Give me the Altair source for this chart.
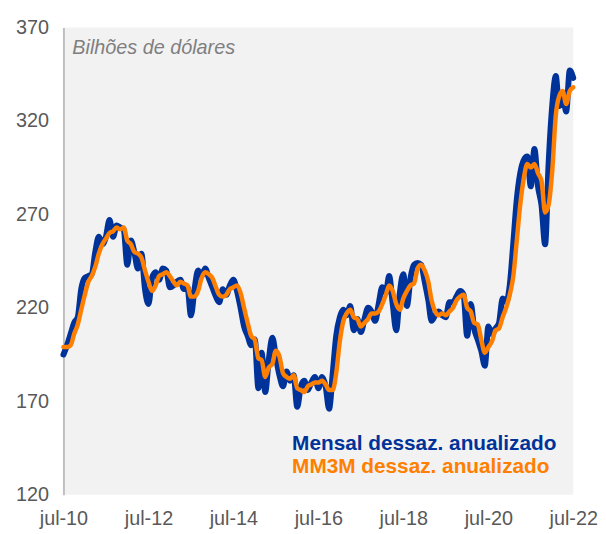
import altair as alt
import pandas as pd

# Mensal dessaz. anualizado (US$ bi), jul-10 .. jul-22
mensal = [
    195, 200, 206, 212, 215, 230, 236, 237, 238, 250, 258, 254,
    258, 267, 258, 264, 263, 262, 243, 256, 250, 241, 249, 230,
    222, 236, 239, 235, 241, 240, 231, 232, 234, 235, 230, 231,
    216, 230, 240, 237, 241, 236, 231, 226, 223, 230, 227, 232,
    235, 229, 220, 210, 205, 200, 203, 177, 196, 175, 192, 204,
    194, 184, 178, 186, 181, 184, 167, 178, 181, 176, 180, 183,
    177, 183, 178, 166, 185, 205, 215, 219, 216, 221, 208, 214,
    207, 214, 220, 218, 213, 222, 231, 228, 237, 222, 208, 228,
    238, 221, 236, 243, 244, 243, 234, 224, 213, 216, 218, 216,
    215, 223, 223, 226, 229, 227, 205, 222, 209, 203, 197, 189,
    210, 206, 209, 212, 225, 223, 232, 255, 277, 292, 299, 301,
    285, 305, 285, 275, 254, 297, 328, 344, 328, 335, 325, 347,
    343,
]

# MM3M dessaz. anualizado (US$ bi), jul-10 .. jul-22
mm3m = [
    199, 199, 200, 206, 211, 219, 227, 234, 237, 242, 249, 254,
    257, 260, 261, 263, 262, 263, 256, 254, 250, 249, 247, 240,
    234, 229, 232, 237, 238, 239, 237, 234, 232, 234, 233, 232,
    226, 226, 229, 236, 239, 238, 236, 231, 227, 226, 227, 230,
    231, 232, 228, 220, 212, 205, 203, 193, 192, 183, 188, 190,
    197, 194, 185, 183, 182, 184, 177, 176, 175, 178, 179, 180,
    180, 181, 179, 176, 176, 185, 202, 213, 217, 219, 215, 214,
    210, 212, 214, 217, 217, 218, 222, 227, 232, 229, 222, 219,
    225, 229, 232, 233, 241, 243, 240, 234, 224, 218, 216, 217,
    216, 218, 220, 224, 226, 227, 220, 218, 212, 211, 203, 196,
    199, 202, 208, 209, 215, 220, 227, 237, 255, 275, 289, 297,
    295, 297, 292, 288, 271, 275, 293, 323, 333, 336, 329, 336,
    338,
]

serie_nomes = ["Mensal dessaz. anualizado", "MM3M dessaz. anualizado"]
cores = ["#003399", "#FF7F00"]
y_ticks = [120, 170, 220, 270, 320, 370]
x_tick_anos = [2010, 2012, 2014, 2016, 2018, 2020, 2022]
titulo = "Bilhões de dólares"

FONT = "Liberation Sans, Arial, sans-serif"

datas = list(pd.date_range("2010-07-01", periods=len(mensal), freq="MS").strftime("%Y-%m-%dT00:00:00"))
df_mensal = pd.DataFrame({"data": datas, "valor": mensal, "serie": serie_nomes[0]})
df_mm3m = pd.DataFrame({"data": datas, "valor": mm3m, "serie": serie_nomes[1]})

color_scale = alt.Scale(domain=serie_nomes, range=cores)

x_enc = alt.X(
    "data:T",
    scale=alt.Scale(domain=[alt.DateTime(year=2010, month=7, date=1),
                            alt.DateTime(year=2022, month=7, date=1)]),
    axis=alt.Axis(
        values=[alt.DateTime(year=a, month=7, date=1) for a in x_tick_anos],
        labelExpr="'jul-' + timeFormat(datum.value, '%y')",
        domain=False, ticks=False, grid=False, labelFlush=False, labelOverlap=False,
        labelPadding=14, labelFontSize=20, labelColor="#595959", labelFont=FONT,
        title=None,
    ),
)
y_enc = alt.Y(
    "valor:Q",
    scale=alt.Scale(domain=[120, 370], nice=False, zero=False),
    axis=alt.Axis(
        values=y_ticks, grid=False, ticks=False, tickSize=0,
        labelPadding=15, labelFontSize=20, labelColor="#595959", labelFont=FONT,
        domainColor="#BFBFBF", domainWidth=2, title=None,
    ),
)

def linha(df, largura):
    return alt.Chart(df).mark_line(
        strokeWidth=largura, interpolate="monotone", strokeCap="round", strokeJoin="round"
    ).encode(
        x=x_enc, y=y_enc,
        color=alt.Color("serie:N", scale=color_scale, legend=None),
    )

l_mensal = linha(df_mensal, 6)
l_mm3m = linha(df_mm3m, 4.5)

t_titulo = alt.Chart(pd.DataFrame({"t": [titulo]})).mark_text(
    font=FONT, fontSize=20, fontStyle="italic", color="#7F7F7F",
    align="left", baseline="alphabetic",
).encode(x=alt.value(9), y=alt.value(27), text="t:N")

def leg(nome, ypos):
    return alt.Chart(pd.DataFrame({"serie": [nome]})).mark_text(
        font=FONT, fontSize=21, fontWeight="bold", align="left", baseline="alphabetic",
    ).encode(
        x=alt.value(231), y=alt.value(ypos), text="serie:N",
        color=alt.Color("serie:N", scale=color_scale, legend=None),
    )

chart = alt.layer(
    l_mensal, l_mm3m, t_titulo, leg(serie_nomes[0], 427), leg(serie_nomes[1], 450)
).properties(
    width=515, height=472,
    autosize=alt.AutoSizeParams(type="none"),
    padding={"left": 56, "top": 17, "right": 25, "bottom": 36},
).configure_view(
    fill="#F2F2F2", strokeWidth=0,
)

chart.save("out.html", embed_options={"renderer": "svg", "actions": False})
